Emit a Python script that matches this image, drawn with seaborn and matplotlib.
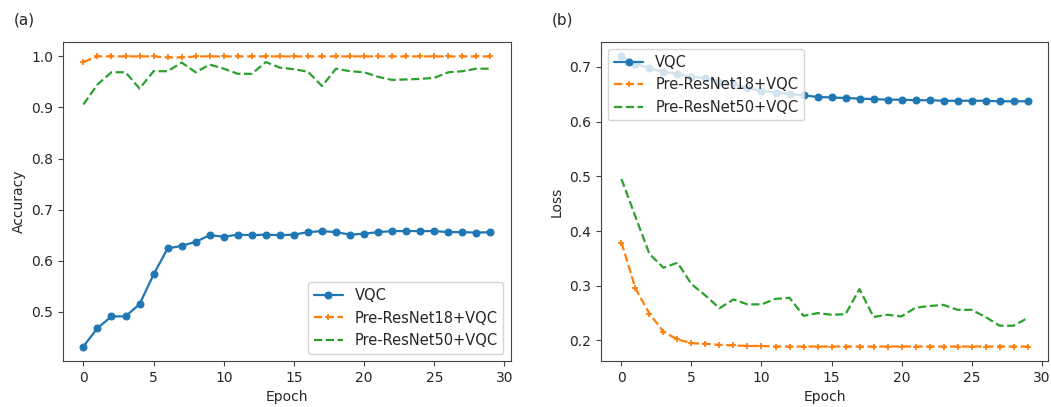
import numpy as np
import pandas as pd
import matplotlib
matplotlib.use("Agg")
import matplotlib.pyplot as plt
import seaborn as sns

epochs = list(range(30))

acc_vqc = [0.432, 0.468, 0.491, 0.491, 0.515, 0.573, 0.624, 0.629, 0.637, 0.650,
           0.647, 0.651, 0.650, 0.651, 0.650, 0.651, 0.656, 0.658, 0.656, 0.651,
           0.653, 0.656, 0.658, 0.658, 0.658, 0.658, 0.656, 0.656, 0.655, 0.656]
acc_r18 = [0.989, 1.0, 1.0, 1.0, 1.0, 1.0, 0.998, 0.998, 1.0, 1.0,
           1.0, 1.0, 1.0, 1.0, 1.0, 1.0, 1.0, 1.0, 1.0, 1.0,
           1.0, 1.0, 1.0, 1.0, 1.0, 1.0, 1.0, 1.0, 1.0, 1.0]
acc_r50 = [0.906, 0.945, 0.969, 0.969, 0.937, 0.971, 0.971, 0.988, 0.969, 0.984,
           0.976, 0.966, 0.966, 0.989, 0.978, 0.975, 0.970, 0.942, 0.976, 0.971,
           0.969, 0.960, 0.954, 0.955, 0.956, 0.958, 0.969, 0.971, 0.976, 0.976]

loss_vqc = [0.719, 0.706, 0.697, 0.691, 0.687, 0.682, 0.679, 0.673, 0.670, 0.661,
            0.656, 0.653, 0.650, 0.648, 0.645, 0.644, 0.643, 0.642, 0.641, 0.640,
            0.640, 0.639, 0.639, 0.638, 0.638, 0.638, 0.638, 0.637, 0.637, 0.637]
loss_r18 = [0.379, 0.295, 0.249, 0.216, 0.202, 0.195, 0.194, 0.192, 0.191, 0.190,
            0.190, 0.189, 0.189, 0.189, 0.189, 0.189, 0.189, 0.189, 0.189, 0.189,
            0.189, 0.189, 0.189, 0.189, 0.189, 0.189, 0.189, 0.189, 0.189, 0.189]
loss_r50 = [0.495, 0.426, 0.358, 0.333, 0.342, 0.303, 0.282, 0.259, 0.275, 0.266,
            0.266, 0.276, 0.278, 0.245, 0.250, 0.247, 0.248, 0.294, 0.243, 0.247,
            0.244, 0.260, 0.263, 0.265, 0.256, 0.256, 0.243, 0.227, 0.227, 0.241]

labels = ["VQC", "Pre-ResNet18+VQC", "Pre-ResNet50+VQC"]
colors = ["#1f77b4", "#ff7f0e", "#2ca02c"]

sns.set_style("ticks")
plt.rcParams["font.family"] = ["DejaVu Sans"]
plt.rcParams["axes.edgecolor"] = "#444444"

fig = plt.figure(figsize=(10.51, 4.07), dpi=100)
ax1 = fig.add_axes([0.060, 0.113, 0.426, 0.784])
ax2 = fig.add_axes([0.572, 0.113, 0.425, 0.784])

def draw(ax, series):
    styles = [dict(marker="o", markersize=5, linestyle="-"),
              dict(marker="+", markersize=5, markeredgewidth=1.3, linestyle="--"),
              dict(marker=None, linestyle="--")]
    for vals, lab, col, st in zip(series, labels, colors, styles):
        sns.lineplot(x=epochs, y=vals, ax=ax, color=col, label=lab,
                     linewidth=1.6, markeredgecolor=col, **st)

draw(ax1, [acc_vqc, acc_r18, acc_r50])
draw(ax2, [loss_vqc, loss_r18, loss_r50])

for ax, ylab in [(ax1, "Accuracy"), (ax2, "Loss")]:
    ax.set_xlabel("Epoch", fontsize=10)
    ax.set_ylabel(ylab, fontsize=10)
    ax.tick_params(labelsize=10, color="#444444", length=3.5)
    ax.set_xticks([0, 5, 10, 15, 20, 25, 30])
    ax.margins(x=0.05, y=0.05)

ax1.set_yticks([0.5, 0.6, 0.7, 0.8, 0.9, 1.0])
ax2.set_yticks([0.2, 0.3, 0.4, 0.5, 0.6, 0.7])

ax1.legend(loc="lower right", fontsize=10.5, borderaxespad=0.5)
ax2.legend(loc="upper left", fontsize=10.5, borderaxespad=0.5)

fig.text(0.013, 0.95, "(a)", fontsize=11, va="center")
fig.text(0.525, 0.95, "(b)", fontsize=11, va="center")

fig.savefig("out.png", dpi=100)
